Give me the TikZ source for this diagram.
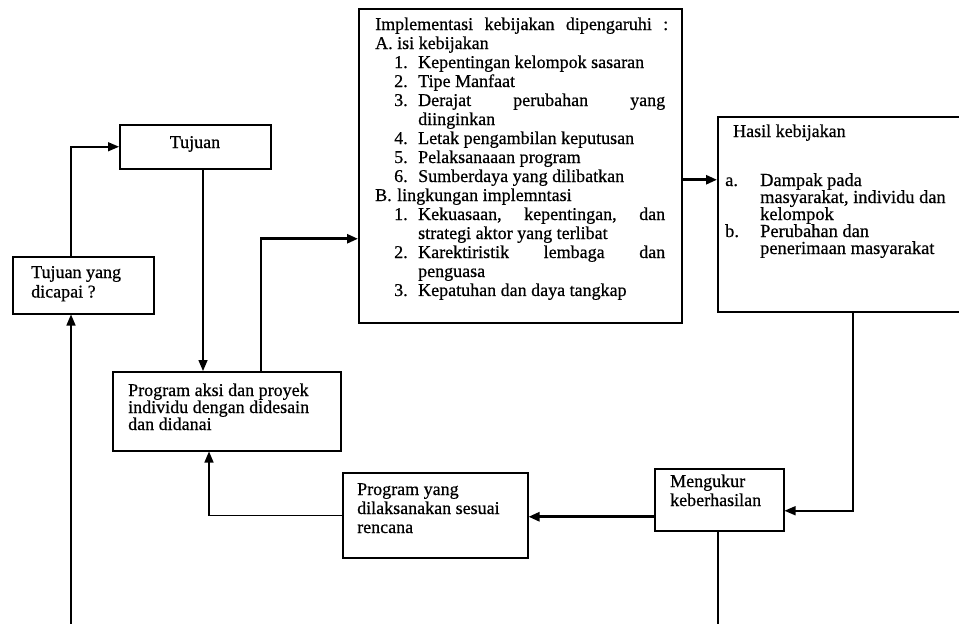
\documentclass[tikz,border=0pt]{standalone}
\usepackage{fontspec}
\setmainfont[FakeBold=0.6]{Liberation Serif}
\usetikzlibrary{arrows.meta}
\begin{document}
\begin{tikzpicture}[x=1pt,y=-1pt,
  box/.style={draw=black, line width=1.5pt, inner sep=0pt, anchor=north west},
  txt/.style={inner sep=0pt, anchor=base west, font=\fontsize{18}{19}\selectfont},
  conn/.style={line width=1.5pt, -{Triangle[length=11pt,width=9pt]}},
  thickconn/.style={line width=2.6pt, -{Triangle[length=11pt,width=9pt]}},
  plainline/.style={line width=1.5pt}]
\useasboundingbox (0,0) rectangle (959,624);
\clip (0,0) rectangle (959,624);
\fill[white] (0,0) rectangle (959,624);

% boxes
\node[box, minimum width=323pt, minimum height=314pt] (impl) at (358,8) {};
\node[box, minimum width=250pt, minimum height=195pt] (hasil) at (717,116) {};
\node[box, minimum width=151pt, minimum height=44pt] (tujuan) at (119,124) {};
\node[box, minimum width=141pt, minimum height=57pt] (dicapai) at (12,256) {};
\node[box, minimum width=228pt, minimum height=79pt] (aksi) at (112,371) {};
\node[box, minimum width=185pt, minimum height=85pt] (yang) at (342,472) {};
\node[box, minimum width=129pt, minimum height=62pt] (meng) at (654,468) {};

% texts
\node[txt] (implt) at (375,30) {\parbox[t]{300pt}{%
\makebox[293pt][s]{Implementasi kebijakan dipengaruhi :}\\
\makebox[22pt][l]{A.}isi kebijakan\\
\hspace*{19pt}\makebox[24pt][l]{1.}Kepentingan kelompok sasaran\\
\hspace*{19pt}\makebox[24pt][l]{2.}Tipe Manfaat\\
\hspace*{19pt}\makebox[24pt][l]{3.}\makebox[247pt][s]{Derajat perubahan yang}\\
\hspace*{43pt}diinginkan\\
\hspace*{19pt}\makebox[24pt][l]{4.}Letak pengambilan keputusan\\
\hspace*{19pt}\makebox[24pt][l]{5.}Pelaksanaaan program\\
\hspace*{19pt}\makebox[24pt][l]{6.}Sumberdaya yang dilibatkan\\
\makebox[22pt][l]{B.}lingkungan implemntasi\\
\hspace*{19pt}\makebox[24pt][l]{1.}\makebox[247pt][s]{Kekuasaan, kepentingan, dan}\\
\hspace*{43pt}strategi aktor yang terlibat\\
\hspace*{19pt}\makebox[24pt][l]{2.}\makebox[247pt][s]{Karektiristik lembaga dan}\\
\hspace*{43pt}penguasa\\
\hspace*{19pt}\makebox[24pt][l]{3.}Kepatuhan dan daya tangkap}};

\node[txt] (hasilt) at (733,137) {Hasil kebijakan};
\node[txt, font=\fontsize{18.4}{17}\selectfont] (hasilit) at (725,186) {\parbox[t]{240pt}{%
\makebox[35pt][l]{a.}Dampak pada\\
\hspace*{35pt}masyarakat, individu dan\\
\hspace*{35pt}kelompok\\
\makebox[35pt][l]{b.}Perubahan dan\\
\hspace*{35pt}penerimaan masyarakat}};

\node[txt, anchor=base] (tujuant) at (195,148) {Tujuan};
\node[txt, font=\fontsize{18}{19.5}\selectfont] (dicapait) at (31,278) {\parbox[t]{120pt}{Tujuan yang\\dicapai ?}};
\node[txt, font=\fontsize{18}{17}\selectfont] (aksit) at (128,396) {\parbox[t]{210pt}{Program aksi dan proyek\\individu dengan didesain\\dan didanai}};
\node[txt] (yangt) at (357,495) {\parbox[t]{170pt}{Program yang\\dilaksanakan sesuai\\rencana}};
\node[txt] (mengt) at (670,487) {\parbox[t]{110pt}{Mengukur\\keberhasilan}};

% connectors
\coordinate (mb) at (718,624);
\coordinate (lb) at (71,624);
\draw[conn] ([xshift=59pt]dicapai.north west) |- (tujuan.west);
\draw[conn] ([xshift=84pt]tujuan.south west) -- ([xshift=91pt]aksi.north west);
\draw[thickconn] ([xshift=149pt]aksi.north west) |- ([yshift=-73pt]impl.west);
\draw[thickconn] ([yshift=-14pt]impl.east) -- ([yshift=-14pt]impl.east -| hasil.west);
\draw[conn] ([xshift=136pt]hasil.south west) |- ([yshift=-11pt]meng.east);
\draw[thickconn] ([yshift=-17pt]meng.west) -- ([yshift=-17pt]meng.west -| yang.east);
\draw[conn] (yang.west) -| ([xshift=97pt]aksi.south west);
\draw[plainline] ([xshift=64pt]meng.south west) -- (mb);
\draw[conn] (lb) -- ([xshift=59pt]dicapai.south west);
\end{tikzpicture}
\end{document}
